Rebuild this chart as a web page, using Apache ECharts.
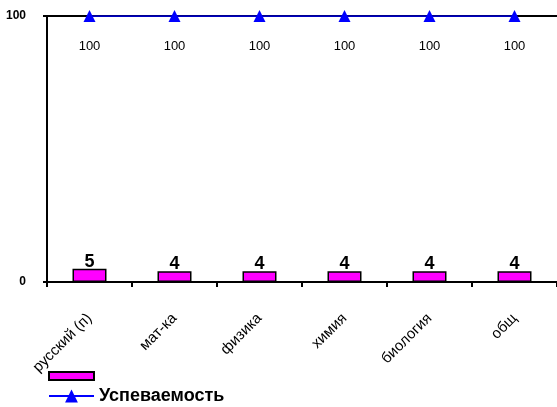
<!DOCTYPE html>
<html><head><meta charset="utf-8">
<script src="https://cdn.jsdelivr.net/npm/echarts@6/dist/echarts.min.js"></script>
<style>html,body{margin:0;padding:0;background:#fff}#c{width:557px;height:407px}</style>
</head><body><div id="c"></div>
<script>
const categories = ['русский (п)', 'мат-ка', 'физика', 'химия', 'биология', 'общ'];
const barValues = [5, 4, 4, 4, 4, 4];
const lineValues = [100, 100, 100, 100, 100, 100];
const lineName = 'Успеваемость';
const barName = ' ';

const FONT = 'Liberation Sans, Arial, sans-serif';
const chart = echarts.init(document.getElementById('c'));
chart.setOption({
  animation: false,
  textStyle: { fontFamily: FONT },
  grid: { left: 47, top: 16, width: 514, height: 266, containLabel: false },
  legend: [
    {
      left: 48, top: 371, padding: 0, itemWidth: 45, itemHeight: 8, icon: 'rect',
      textStyle: { fontSize: 6, color: '#000', fontFamily: FONT },
      data: [barName]
    },
    {
      left: 48, top: 387, padding: 0, itemWidth: 45, itemHeight: 16,
      textStyle: { fontSize: 18, fontWeight: 'bold', color: '#000', fontFamily: FONT },
      data: [lineName]
    }
  ],
  xAxis: {
    type: 'category', data: categories,
    axisLine: { lineStyle: { color: '#000', width: 2 } },
    axisTick: { show: true, length: 5, lineStyle: { color: '#000', width: 2 } },
    axisLabel: { rotate: 45, fontSize: 15, color: '#000', margin: 34, interval: 0, fontFamily: FONT }
  },
  yAxis: {
    type: 'value', min: 0, max: 100, interval: 100,
    axisLine: { show: true, lineStyle: { color: '#000', width: 2 } },
    axisTick: { show: true, length: 4, lineStyle: { color: '#000', width: 2 } },
    splitLine: { show: true, lineStyle: { color: '#000', width: 2 } },
    axisLabel: { fontSize: 12, fontWeight: 'bold', color: '#000', margin: 21, fontFamily: FONT }
  },
  series: [
    {
      name: barName, type: 'bar', data: barValues, barWidth: 34,
      itemStyle: { color: '#FF00FF', borderColor: '#000', borderWidth: 1.5 },
      label: { show: true, position: 'top', distance: -2, fontSize: 18, fontWeight: 'bold', color: '#000', fontFamily: FONT }
    },
    {
      name: lineName, type: 'line', data: lineValues,
      symbol: 'triangle', symbolSize: 12,
      lineStyle: { color: '#0000FF', width: 1.5 },
      itemStyle: { color: '#0000FF' },
      label: { show: true, position: 'bottom', distance: 18, fontSize: 13, color: '#000', fontFamily: FONT },
      z: 5
    }
  ]
});
</script></body></html>
